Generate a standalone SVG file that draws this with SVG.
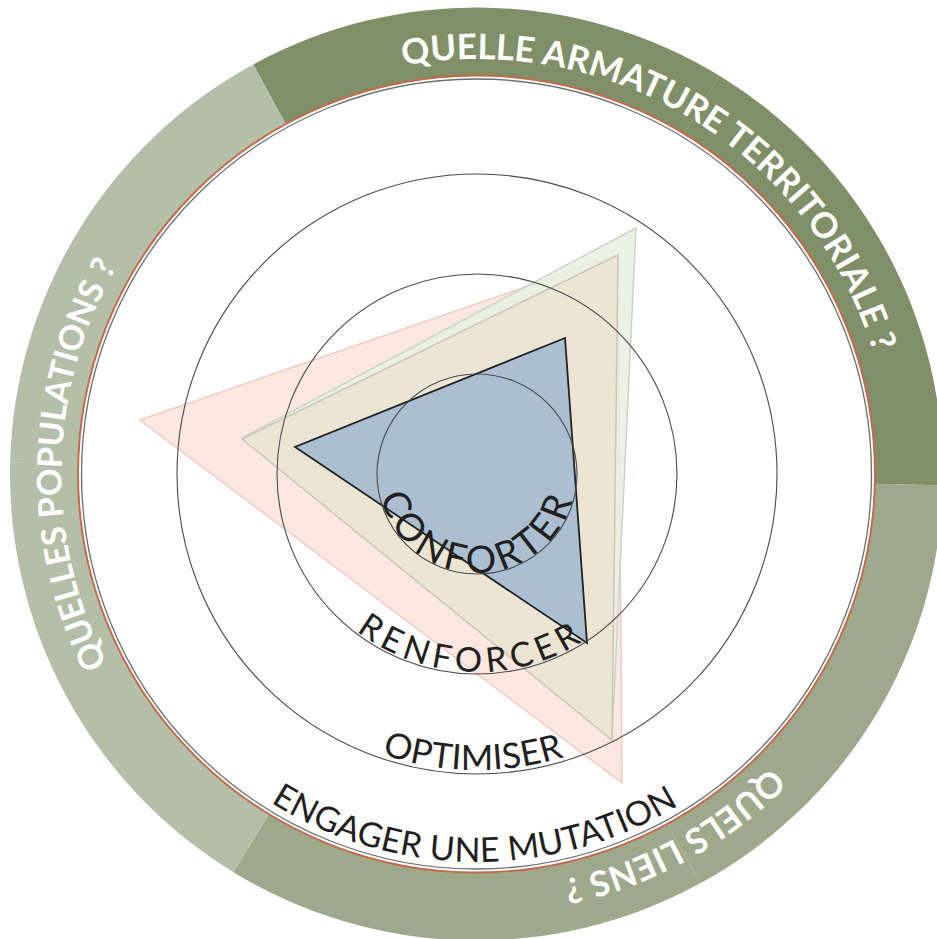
<svg xmlns="http://www.w3.org/2000/svg" width="937" height="939" viewBox="0 0 937 939">
<style>
.ringtxt{font-family:Lato,"Open Sans",sans-serif;font-weight:700;fill:#ffffff}
.lvl{font-family:Lato,"Open Sans",sans-serif;fill:#231f20}
.guide{fill:none;stroke:#4a4a4a;stroke-width:1.1}
.dark{fill:#7f8f68}
.mid{fill:#9da98a}
.light{fill:#b4bfa7}
</style>
<defs>
<path id="sec" d="M 466.5 0 A 466.5 466.5 0 0 1 233.25 404.01 L 199 344.69 A 398 398 0 0 0 398 0 Z"/>
<path id="ringArc" d="M 0 -415 A 415 415 0 0 1 0 415"/>
<path id="a1" d="M -99 0 A 99 99 0 0 0 99 0"/>
<path id="a2" d="M -198 0 A 198 198 0 0 0 198 0"/>
<path id="a3" d="M -296 0 A 296 296 0 0 0 296 0"/>
<path id="a4" d="M -388 0 A 388 388 0 0 0 388 0"/>
</defs>
<rect width="937" height="939" fill="#ffffff"/>
<g id="ring">
<use href="#sec" class="dark" transform="translate(476.5 474) rotate(-118.6)"/>
<use href="#sec" class="dark" transform="translate(476.5 474) rotate(-58.6)"/>
<use href="#sec" class="mid" transform="translate(476.5 474) rotate(1.4)"/>
<use href="#sec" class="mid" transform="translate(476.5 474) rotate(61.4)"/>
<use href="#sec" class="light" transform="translate(476.5 474) rotate(121.4)"/>
<use href="#sec" class="light" transform="translate(476.5 474) rotate(181.4)"/>
<circle cx="476.5" cy="474" r="398.5" fill="none" stroke="#c8684a" stroke-width="1.9"/>
<circle cx="476.5" cy="474" r="395" fill="none" stroke="#6d6d6d" stroke-width="1.3"/>
</g>
<g id="ring-labels">
<g id="label-armature" transform="translate(476.5 474) rotate(-58.6)"><text class="ringtxt" style="font-size:35px" text-anchor="middle"><textPath href="#ringArc" startOffset="50%">QUELLE ARMATURE TERRITORIALE ?</textPath></text></g>
<g id="label-liens" transform="translate(476.5 474) rotate(61.4)"><text class="ringtxt" style="font-size:35px" text-anchor="middle"><textPath href="#ringArc" startOffset="50%">QUELS LIENS ?</textPath></text></g>
<g id="label-populations" transform="translate(476.5 474) rotate(181.4)"><text class="ringtxt" style="font-size:34px" text-anchor="middle"><textPath href="#ringArc" startOffset="50%">QUELLES POPULATIONS ?</textPath></text></g>
</g>
<g id="triangles">
<polygon id="tri-pink" points="140,420 618,255 622,783" fill="#fde8e1" stroke="#efcbbf" stroke-width="1.5"/>
<polygon id="tri-green" points="636,228 242,438 612,740" fill="#e6f1e2" fill-opacity="0.85" stroke="#c9d6c6" stroke-width="1.5"/>
<polygon id="tri-tan" points="618,255 242,439 612,740" fill="#ece5d4" stroke="#cdc5b5" stroke-width="1.5"/>
<polygon id="tri-blue" points="565,338 295,447 587,643" fill="#aabfd2" stroke="#222222" stroke-width="1.8" stroke-linejoin="miter"/>
</g>
<g id="guides">
<circle class="guide" cx="477" cy="474" r="100"/>
<circle class="guide" cx="477" cy="474" r="200"/>
<circle class="guide" cx="477" cy="474" r="300"/>
</g>
<g id="level-labels">
<g id="lbl-conforter" transform="translate(477 474)"><text class="lvl" style="font-size:38px;letter-spacing:4.2px" text-anchor="middle"><textPath href="#a1" startOffset="50%">CONFORTER</textPath></text></g>
<g id="lbl-renforcer" transform="translate(477 474) rotate(2)"><text class="lvl" style="font-size:34px;letter-spacing:5.3px" text-anchor="middle"><textPath href="#a2" startOffset="50%">RENFORCER</textPath></text></g>
<g id="lbl-optimiser" transform="translate(477 474) rotate(0.8)"><text class="lvl" style="font-size:35px;letter-spacing:0.3px" text-anchor="middle"><textPath href="#a3" startOffset="50%">OPTIMISER</textPath></text></g>
<g id="lbl-mutation" transform="translate(477 474) rotate(0.4)"><text class="lvl" style="font-size:34px;letter-spacing:0.3px" text-anchor="middle"><textPath href="#a4" startOffset="50%">ENGAGER UNE MUTATION</textPath></text></g>
</g>
</svg>
